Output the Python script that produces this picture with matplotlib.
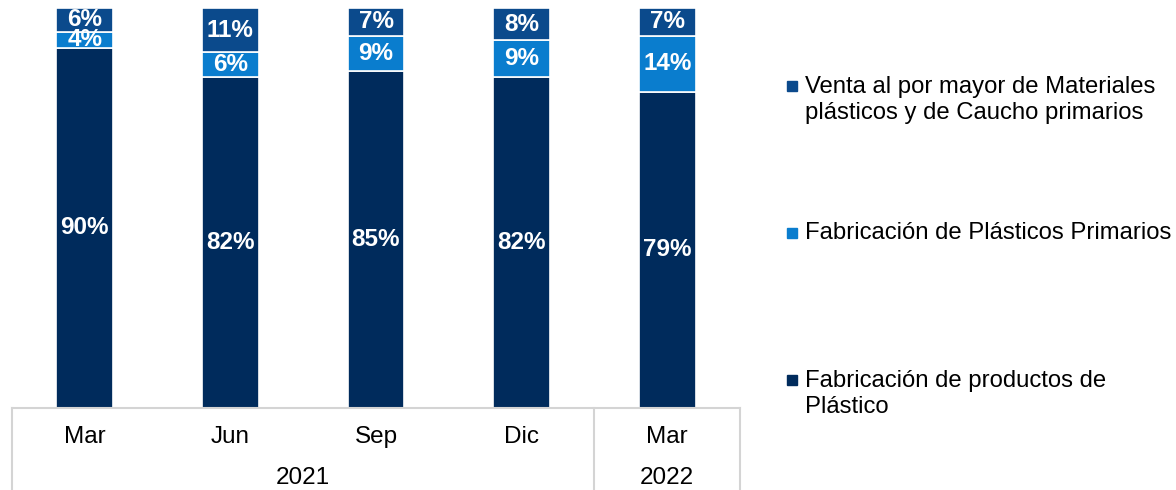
import matplotlib
matplotlib.use("Agg")
import matplotlib.pyplot as plt
import matplotlib.transforms as mtransforms
from matplotlib.patches import Rectangle
import numpy as np

plt.rcParams['font.family'] = ['Liberation Sans', 'DejaVu Sans']

# Data (percent shares)
months = ['Mar', 'Jun', 'Sep', 'Dic', 'Mar']
years = ['2021', '2022']
year_span = [(0, 3), (4, 4)]
productos = [90, 82, 85, 82, 79]
primarios = [4, 6, 9, 9, 14]
venta = [6, 11, 7, 8, 7]

series = [
    ('Fabricación de productos de\nPlástico', productos, '#002B5C'),
    ('Fabricación de Plásticos Primarios', primarios, '#0A7DCE'),
    ('Venta al por mayor de Materiales\nplásticos y de Caucho primarios', venta, '#0B4A8C'),
]

W, H = 1176, 490
fig = plt.figure(figsize=(W / 100, H / 100), dpi=100)
ax = fig.add_axes([12 / W, (H - 408) / H, 728 / W, 400 / H])

x = np.arange(len(months))
total = np.array(productos) + np.array(primarios) + np.array(venta)
bottom = np.zeros(len(months))
for name, vals, col in series:
    share = np.array(vals) / total
    ax.bar(x, share, 0.39, bottom=bottom, color=col, edgecolor='white', linewidth=1.2)
    for xi, b, s, v in zip(x, bottom, share, vals):
        ax.text(xi, b + s / 2, f'{v}%', ha='center', va='center',
                color='white', fontsize=17.5, fontweight='bold')
    bottom += share

ax.set_xlim(-0.5, len(months) - 0.5)
ax.set_ylim(0, 1)
ax.axis('off')

# category table below the bars
tr = mtransforms.blended_transform_factory(ax.transData, ax.transAxes)
line_kw = dict(color='#D4D4D4', lw=1.5, clip_on=False, transform=tr)
ax.plot([-0.5, len(months) - 0.5], [0, 0], **line_kw)
for xv in [-0.5, 3.5, len(months) - 0.5]:
    ax.plot([xv, xv], [0, -0.21], **line_kw)
for xi, m in zip(x, months):
    ax.text(xi, -0.0725, m, transform=tr, ha='center', va='center', fontsize=17.5)
for yr, (a, b) in zip(years, year_span):
    ax.text((a + b) / 2, -0.175, yr, transform=tr, ha='center', va='center', fontsize=17.5)

# legend drawn by hand (markers aligned with first text line)
leg = [(series[2], 86, 100), (series[1], 233, 233), (series[0], 380, 394)]
for (name, vals, col), ym, yt in leg:
    fig.patches.append(Rectangle(((792 - 5) / W, 1 - (ym + 5) / H), 10 / W, 10 / H,
                                 transform=fig.transFigure, color=col))
    fig.text(805 / W, 1 - yt / H, name, ha='left', va='center', fontsize=17.2,
             linespacing=1.2)

fig.savefig('out.png', dpi=100)
